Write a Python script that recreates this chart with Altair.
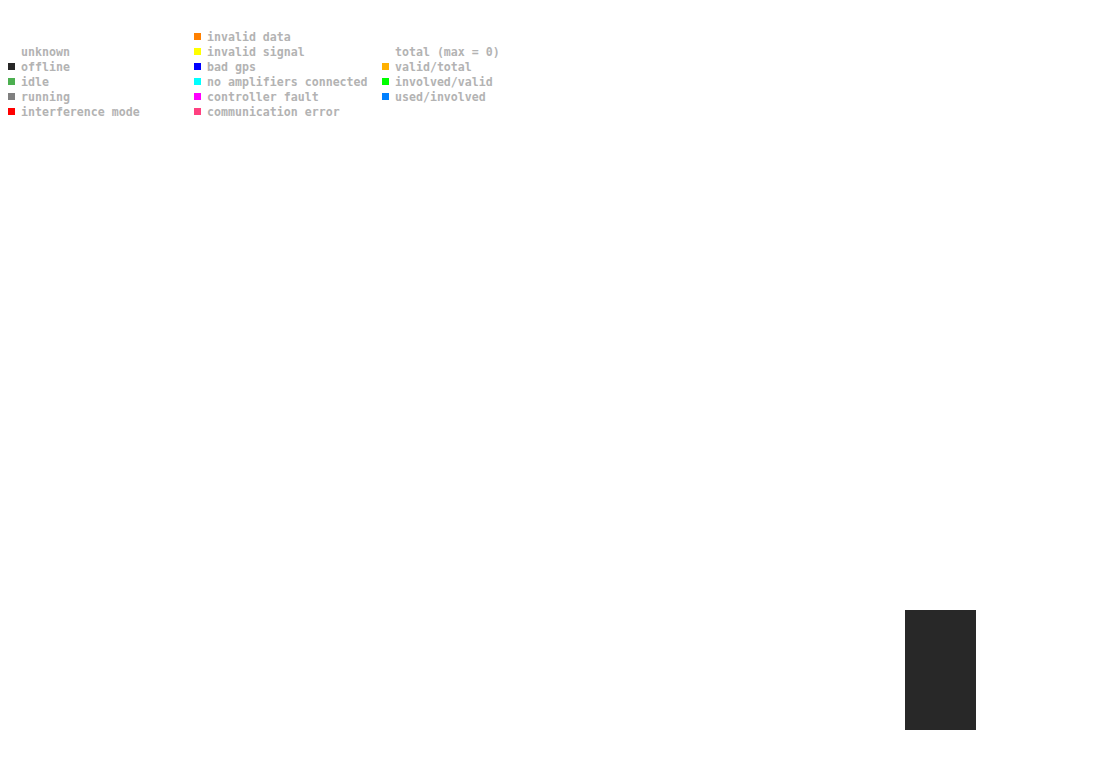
import altair as alt
import pandas as pd

# ---- data ----
status_labels = ["unknown", "offline", "idle", "running", "interference mode"]
status_colors = ["#ffffff", "#282828", "#4caf50", "#808080", "#ff0000"]

fault_labels = ["invalid data", "invalid signal", "bad gps", "no amplifiers connected",
                "controller fault", "communication error"]
fault_colors = ["#ff8000", "#ffff00", "#0000ff", "#00ffff", "#ff00ff", "#ff4080"]

ratio_labels = ["total (max = 0)", "valid/total", "involved/valid", "used/involved"]
ratio_colors = ["#ffffff", "#ffb000", "#00ff00", "#0080ff"]

columns = ["status", "fault", "ratio"]
start_rows = [1, 0, 1]

bar_categories = ["offline"]
bar_values = [1.0]

# ---- build tables ----
rows = []
for ci, (col, start, labels, colors) in enumerate(zip(columns, start_rows,
                                      [status_labels, fault_labels, ratio_labels],
                                      [status_colors, fault_colors, ratio_colors])):
    for i, (lab, c) in enumerate(zip(labels, colors)):
        rows.append({"col": col, "ci": ci, "row": start + i, "label": lab, "color": c})
legend_df = pd.DataFrame(rows)

bar_df = pd.DataFrame({"cat": bar_categories, "value": bar_values,
                       "x0": [0.0], "x1": [1.0]})

W, H = 1079, 748

squares = alt.Chart(legend_df).mark_square(size=49, opacity=1, filled=True).encode(
    x=alt.X("ci:Q", scale=alt.Scale(domain=[0, 1, 2], range=[3.5, 189.5, 377.5]), axis=None),
    y=alt.Y("row:Q", scale=alt.Scale(domain=[0, 5], range=[28.5, 103.5]), axis=None),
    color=alt.Color("color:N", scale=None),
)
texts = alt.Chart(legend_df).mark_text(
    align="left", baseline="middle",
    font="DejaVu Sans Mono", fontSize=11.6, fontWeight="bold", color="#b3b3b3"
).encode(
    x=alt.X("ci:Q", scale=alt.Scale(domain=[0, 1, 2], range=[13, 199, 387]), axis=None),
    y=alt.Y("row:Q", scale=alt.Scale(domain=[0, 5], range=[29.5, 104.5]), axis=None),
    text="label:N",
)

bar = alt.Chart(bar_df).mark_rect(color="#282828").encode(
    x=alt.X("x0:Q", scale=alt.Scale(domain=[0, 1], range=[897, 968]), axis=None),
    x2="x1:Q",
    y=alt.Y("value:Q", scale=alt.Scale(domain=[0, 1], range=[722, 602]), axis=None),
    y2=alt.datum(0),
)

chart = alt.layer(squares, texts, bar).resolve_scale(x="independent", y="independent").properties(
    width=W, height=H, padding=0, background="#ffffff",
    autosize=alt.AutoSizeParams(type="none"),
).configure_view(strokeWidth=0, stroke=None)

chart.save("out.html", embed_options={"renderer": "svg", "actions": False})
